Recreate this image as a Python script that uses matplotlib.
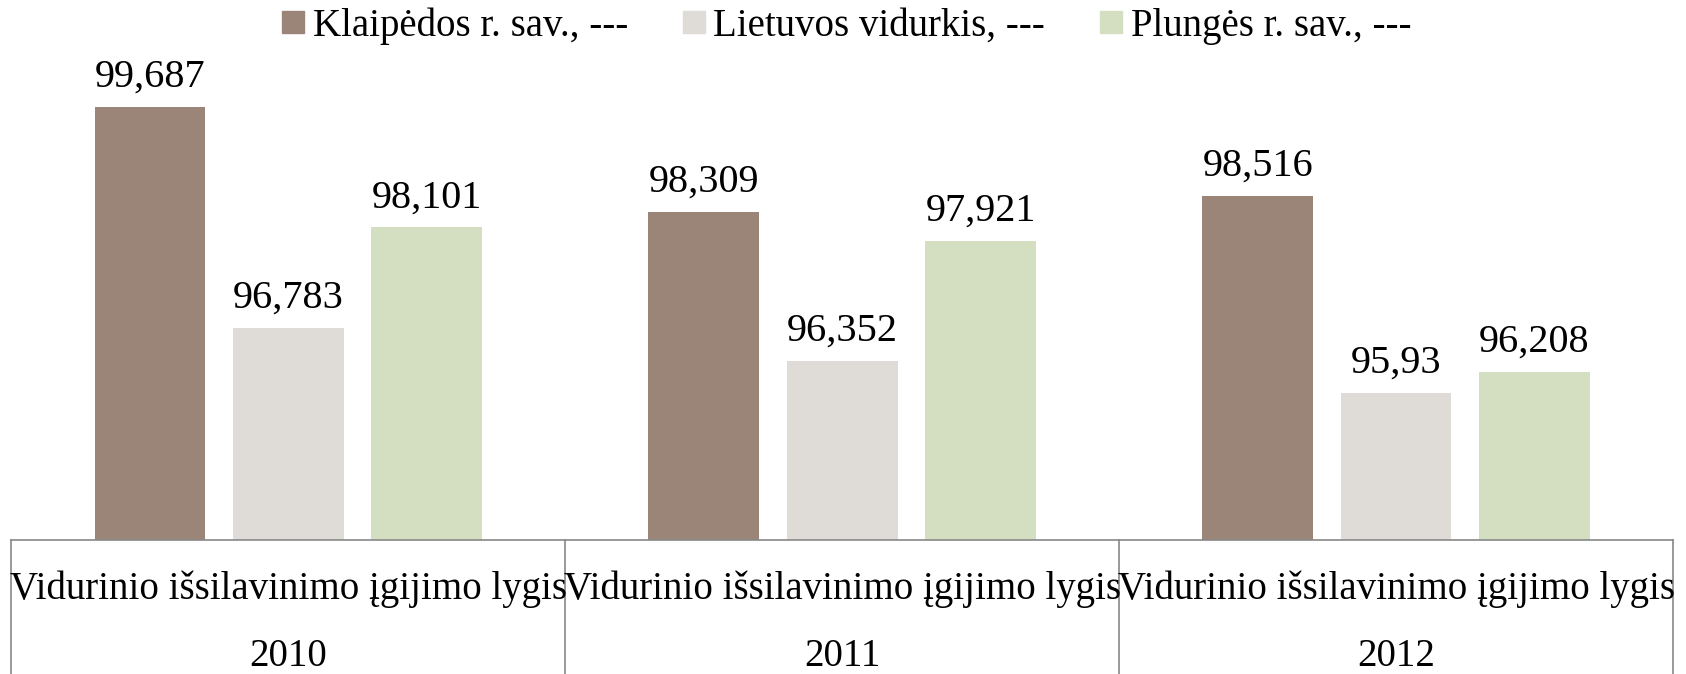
import numpy as np
import matplotlib.pyplot as plt
from matplotlib.lines import Line2D

plt.rcParams['font.family'] = ['Liberation Serif', 'DejaVu Serif']

years = ['2010', '2011', '2012']
category = 'Vidurinio išsilavinimo įgijimo lygis'
series_names = ['Klaipėdos r. sav., ---', 'Lietuvos vidurkis, ---', 'Plungės r. sav., ---']
klaipedos = [99.687, 98.309, 98.516]
lietuvos = [96.783, 96.352, 95.93]
plunges = [98.101, 97.921, 96.208]
colors = ['#9B8579', '#DFDBD7', '#D3DFC0']

fig = plt.figure(figsize=(16.86, 6.74), dpi=100)
ax = fig.add_axes([0.0068, 0.1988, 0.9855, 0.6785])

x = np.arange(len(years))
width = 0.2
offsets = [-0.25, 0, 0.25]
fs = 28

for vals, off, c in zip([klaipedos, lietuvos, plunges], offsets, colors):
    bars = ax.bar(x + off, vals, width, color=c, bottom=0)
    for b, v in zip(bars, vals):
        ax.annotate(str(v).replace('.', ','), (b.get_x() + b.get_width() / 2, v),
                    xytext=(0, 8), textcoords='offset points',
                    ha='center', va='bottom', fontsize=29)

ax.set_ylim(94, 100)
ax.set_xlim(-0.5, len(years) - 0.5)
ax.set_yticks([])
ax.set_xticks([])
for s in ['top', 'left', 'right']:
    ax.spines[s].set_visible(False)
ax.spines['bottom'].set_color('#888888')
ax.spines['bottom'].set_linewidth(1.2)

# multi-level category axis
trans = ax.get_xaxis_transform()
for b in np.arange(len(years) + 1) - 0.5:
    ax.plot([b, b], [0, -0.3], color='#888888', lw=1.2, transform=trans, clip_on=False)
for i, yr in enumerate(years):
    ax.text(i, -0.108, category, ha='center', va='center', fontsize=fs, transform=trans)
    ax.text(i, -0.255, yr, ha='center', va='center', fontsize=fs, transform=trans)

handles = [Line2D([], [], marker='s', linestyle='none', markersize=16,
                  markerfacecolor=c, markeredgecolor=c) for c in colors]
fig.legend(handles, series_names, loc='upper center', bbox_to_anchor=(0.502, 1.041),
           ncol=3, frameon=False, fontsize=fs, handlelength=0.6,
           handletextpad=0.2, columnspacing=1.4)

fig.savefig('out.png', dpi=100)
